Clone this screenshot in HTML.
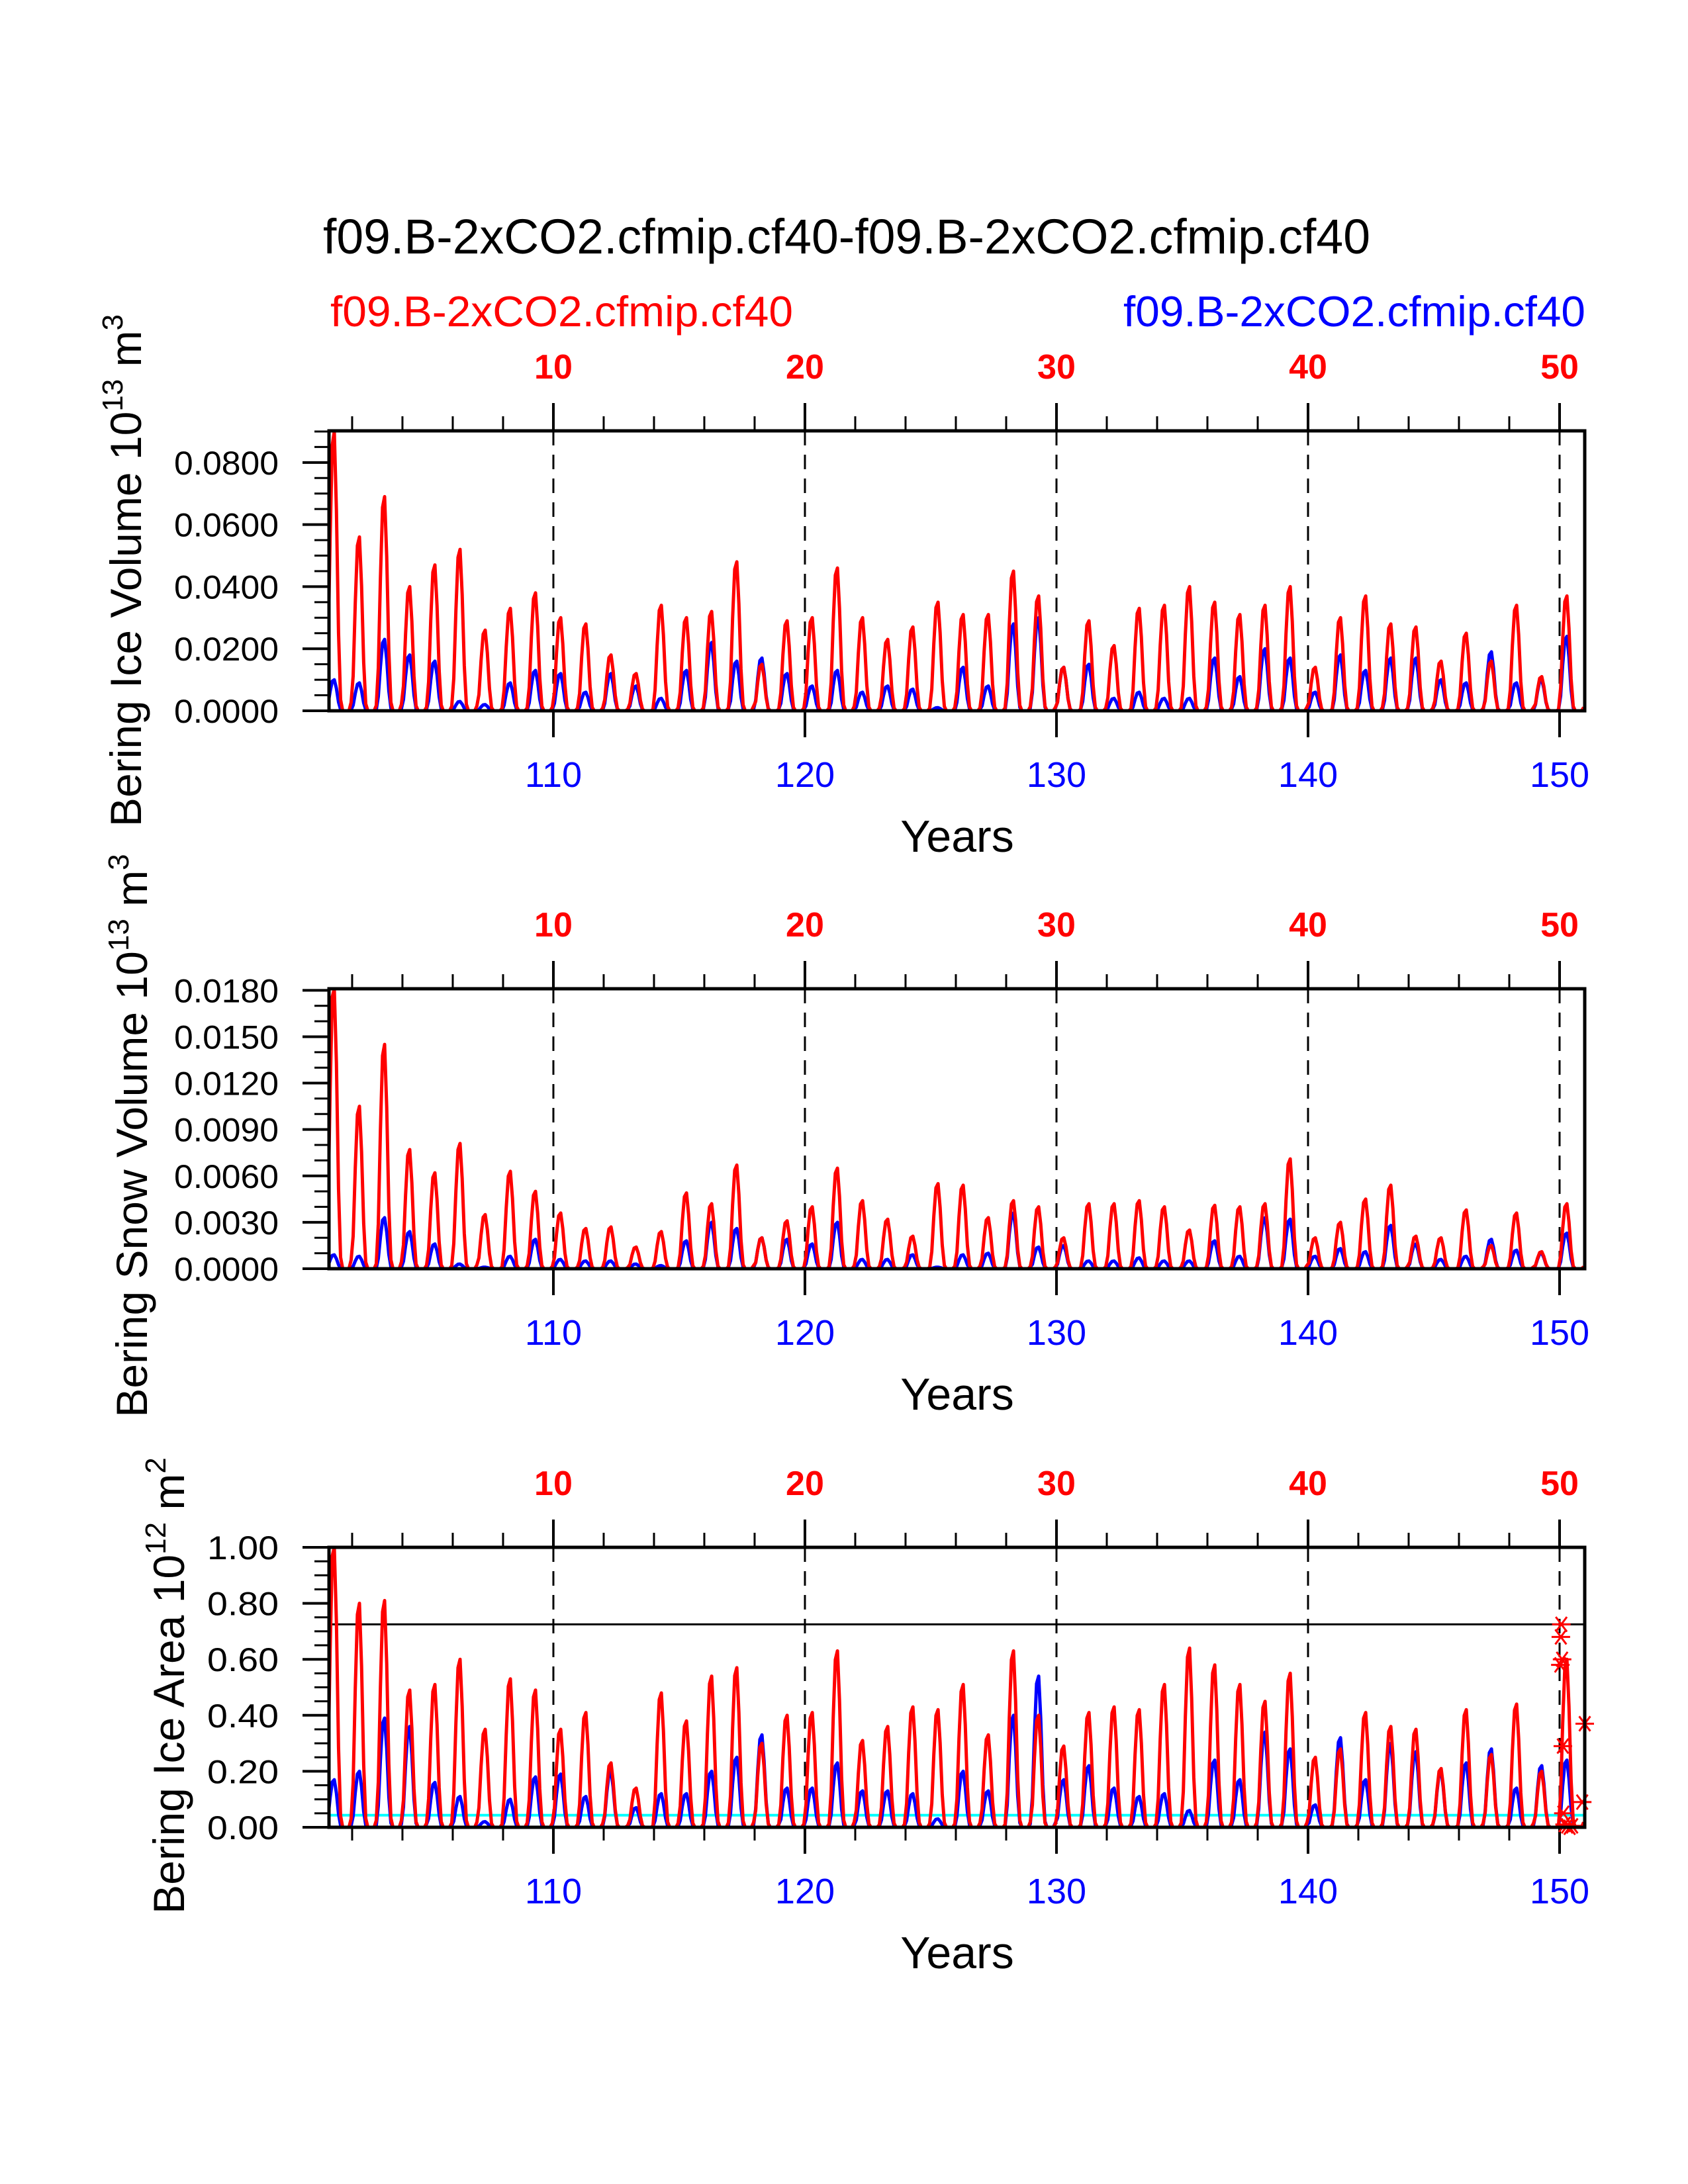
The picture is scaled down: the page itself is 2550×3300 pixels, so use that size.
<!DOCTYPE html>
<html><head><meta charset="utf-8"><title>Bering sea ice</title>
<style>html,body{margin:0;padding:0;background:#fff}svg{display:block}text{font-family:"Liberation Sans",sans-serif}</style>
</head><body>
<svg id="chart" xmlns="http://www.w3.org/2000/svg" width="2550" height="3300" viewBox="0 0 2550 3300">
<text x="488" y="383" font-size="74" textLength="1582" lengthAdjust="spacingAndGlyphs">f09.B-2xCO2.cfmip.cf40-f09.B-2xCO2.cfmip.cf40</text>
<text x="499" y="493" font-size="65" fill="#ff0000" textLength="699" lengthAdjust="spacingAndGlyphs">f09.B-2xCO2.cfmip.cf40</text>
<text x="1697" y="493" font-size="65" fill="#0000ff" textLength="698" lengthAdjust="spacingAndGlyphs">f09.B-2xCO2.cfmip.cf40</text>
<g id="plots"></g>
</svg>
<script>
// seasonal shape of each yearly melt/freeze cycle (fraction of annual peak, Jan..Dec)
const seasonProfile=[0.2,0.62,0.95,1.0,0.72,0.28,0.04,0,0,0,0,0.03];
const years=[];for(let y=101;y<=150;y++)years.push(y);
const iceVolRed=[0.090,0.056,0.069,0.040,0.047,0.052,0.026,0.033,0.038,0.030,0.028,0.018,0.012,0.034,0.030,0.032,0.048,0.015,0.029,0.030,0.046,0.030,0.023,0.027,0.035,0.031,0.031,0.045,0.037,0.014,0.029,0.021,0.033,0.034,0.040,0.035,0.031,0.034,0.040,0.014,0.030,0.037,0.028,0.027,0.016,0.025,0.016,0.034,0.011,0.037];
const iceVolBlue=[0.010,0.009,0.023,0.018,0.016,0.003,0.002,0.009,0.013,0.012,0.006,0.012,0.008,0.004,0.013,0.022,0.016,0.017,0.012,0.008,0.013,0.006,0.008,0.007,0.001,0.014,0.008,0.028,0.030,0.014,0.015,0.004,0.006,0.004,0.004,0.017,0.011,0.020,0.017,0.006,0.018,0.013,0.017,0.017,0.010,0.009,0.019,0.009,0.010,0.024];
const snowVolRed=[0.0185,0.0105,0.0145,0.0077,0.0062,0.0081,0.0035,0.0063,0.0050,0.0036,0.0026,0.0027,0.0014,0.0024,0.0049,0.0042,0.0067,0.0020,0.0031,0.0040,0.0065,0.0044,0.0032,0.0021,0.0055,0.0054,0.0033,0.0044,0.0040,0.0020,0.0042,0.0042,0.0044,0.0040,0.0025,0.0041,0.0040,0.0042,0.0071,0.0020,0.0030,0.0045,0.0054,0.0021,0.0020,0.0038,0.0015,0.0036,0.0011,0.0042];
const snowVolBlue=[0.0009,0.0008,0.0033,0.0024,0.0016,0.0003,0.0001,0.0008,0.0019,0.0006,0.0005,0.0005,0.0003,0.0002,0.0018,0.0030,0.0026,0.0020,0.0019,0.0016,0.0030,0.0006,0.0006,0.0009,0.0001,0.0009,0.0010,0.0036,0.0014,0.0015,0.0005,0.0005,0.0007,0.0005,0.0005,0.0018,0.0008,0.0033,0.0032,0.0008,0.0013,0.0011,0.0028,0.0016,0.0006,0.0008,0.0019,0.0012,0.0010,0.0023];
const iceAreaRed=[1.02,0.80,0.81,0.49,0.51,0.60,0.35,0.53,0.49,0.35,0.41,0.23,0.14,0.48,0.38,0.54,0.57,0.30,0.40,0.41,0.63,0.31,0.36,0.43,0.42,0.51,0.33,0.63,0.40,0.29,0.41,0.43,0.42,0.51,0.64,0.58,0.51,0.45,0.55,0.25,0.28,0.41,0.36,0.35,0.21,0.42,0.26,0.44,0.20,0.60];
const iceAreaBlue=[0.17,0.20,0.39,0.36,0.16,0.11,0.02,0.10,0.18,0.19,0.11,0.20,0.07,0.12,0.12,0.20,0.25,0.33,0.14,0.14,0.23,0.13,0.13,0.12,0.03,0.20,0.13,0.40,0.54,0.17,0.22,0.14,0.11,0.12,0.06,0.24,0.17,0.34,0.28,0.08,0.32,0.17,0.30,0.27,0.20,0.23,0.28,0.14,0.22,0.24];
const iceAreaRefLine=[0.725];
const iceAreaCyanLine=[0.043];
const starX=[150.07,150.05,150.10,150.03,151.0,150.13,150.9,150.15,150.2,150.3,150.4,150.5];
const starY=[0.725,0.68,0.60,0.58,0.37,0.29,0.09,0.05,0.01,0.005,0.0,0.005];
const topTickLabels=["10","20","30","40","50"];
const bottomTickLabels=["110","120","130","140","150"];
const iceVolTicks=["0.0000","0.0200","0.0400","0.0600","0.0800"];
const snowVolTicks=["0.0000","0.0030","0.0060","0.0090","0.0120","0.0150","0.0180"];
const iceAreaTicks=["0.00","0.20","0.40","0.60","0.80","1.00"];

const NS="http://www.w3.org/2000/svg";
const X0=497,X1=2394,XMIN=101.08,XMAX=151.0;
function xs(v){return X0+(v-XMIN)/(XMAX-XMIN)*(X1-X0);}
function mk(tag,attrs,parent){const e=document.createElementNS(NS,tag);for(const k in attrs)e.setAttribute(k,attrs[k]);parent.appendChild(e);return e;}
const root=document.getElementById('plots');

function panel(o){
  const top=o.top,bot=o.top+423,ymax=o.ymax;
  const ys=v=>bot-Math.min(v,ymax)/ymax*(bot-top);
  const g=mk('g',{},root);
  
  
  const clipId='clip'+o.top;
  const cp=mk('clipPath',{id:clipId},g);mk('rect',{x:X0,y:top,width:X1-X0,height:bot-top},cp);
  for(let yr=110;yr<=150;yr+=10){
    const l=mk('line',{x1:xs(yr),x2:xs(yr),y1:top,y2:bot,stroke:'#000','stroke-width':3,'stroke-dasharray':'22,14'},g);
    
    
  }
  for(let yr=102;yr<=150;yr+=2){
    const major=yr%10===0,x=xs(yr);
    const t=mk('line',{x1:x,x2:x,y1:top,y2:top-(major?42:22),stroke:'#000','stroke-width':major?4:3},g);
    
    
    if(major||o.bottomMinor){
      const b=mk('line',{x1:x,x2:x,y1:bot,y2:bot+(major?40:20),stroke:'#000','stroke-width':major?4:3},g);
      
      
    }
  }
  topTickLabels.forEach((s,i)=>{
    const t=mk('text',{x:xs(110+i*10),y:top-79,'font-size':52,'font-weight':'bold',fill:'#ff0000','text-anchor':'middle'},g);
    t.textContent=s;
    
    
  });
  bottomTickLabels.forEach((s,i)=>{
    const t=mk('text',{x:xs(110+i*10),y:bot+115,'font-size':54,fill:'#0000ff','text-anchor':'middle'},g);
    t.textContent=s;
    
    
  });
  const xt=mk('text',{x:1446,y:bot+213,'font-size':68,'text-anchor':'middle'},g);
  xt.textContent='Years';
  
  
  for(let v=0;v<=ymax+1e-9;v+=o.minor){
    const isMaj=Math.abs(v/o.major-Math.round(v/o.major))<1e-6;
    const l=mk('line',{x1:X0,x2:X0-(isMaj?40:22),y1:ys(v),y2:ys(v),stroke:'#000','stroke-width':isMaj?4:3},g);
    
    
  }
  o.ticks.forEach(s=>{
    const v=parseFloat(s);
    const t=mk('text',{x:421,y:ys(v)+18,'font-size':50,'text-anchor':'end',textLength:o.tlw,lengthAdjust:'spacingAndGlyphs'},g);
    t.textContent=s;
    
    
  });
  const yt=mk('text',{x:0,y:0,'font-size':66,'text-anchor':'middle',transform:`translate(${o.tx},${o.ty}) rotate(-90)`},g);
  
  
  yt.innerHTML=o.title;
  if(o.hlines)o.hlines.forEach(h=>{
    const l=mk('line',{x1:X0,x2:X1,y1:ys(h.v),y2:ys(h.v),stroke:h.c,'stroke-width':h.w},g);
    
    
  });
  const cg=mk('g',{'clip-path':`url(#${clipId})`},g);
  [[o.blue,'#0000ff','blue-series'],[o.red,'#ff0000','red-series']].forEach(([arr,c,n])=>{
    let d='';
    years.forEach((yr,i)=>{seasonProfile.forEach((f,m)=>{
      const x=xs(yr+(m+0.5)/12),y=ys(arr[i]*f);
      d+=(d?'L':'M')+x.toFixed(1)+','+y.toFixed(1);
    });});
    const p=mk('path',{d:d,fill:'none',stroke:c,'stroke-width':5,'stroke-linejoin':'round'},cg);
    
    
  });
  if(o.stars){
    starX.forEach((sx,i)=>{
      const cx=xs(sx),cy=ys(starY[i]),r=14;
      const s=mk('path',{d:`M${cx-r},${cy}L${cx+r},${cy}M${cx-r*0.6},${cy-r*0.8}L${cx+r*0.6},${cy+r*0.8}M${cx-r*0.6},${cy+r*0.8}L${cx+r*0.6},${cy-r*0.8}`,stroke:'#ff0000','stroke-width':3,fill:'none'},g);
      
      
    });
  }
  const f=mk('rect',{x:X0,y:top,width:X1-X0,height:bot-top,fill:'none',stroke:'#000','stroke-width':5},g);
  
  
}
panel({name:'ice-volume-panel',top:651,ymax:0.0902,major:0.02,minor:0.005,ticks:iceVolTicks,tlw:158,red:iceVolRed,blue:iceVolBlue,tx:213,ty:862,
  title:'Bering Ice Volume 10<tspan font-size="44" dy="-28">13</tspan><tspan dy="28"> m</tspan><tspan font-size="44" dy="-28">3</tspan>'});
panel({name:'snow-volume-panel',top:1494,ymax:0.0181,major:0.003,minor:0.001,ticks:snowVolTicks,tlw:158,red:snowVolRed,blue:snowVolBlue,tx:222,ty:1716,
  title:'Bering Snow Volume 10<tspan font-size="44" dy="-28">13</tspan><tspan dy="28"> m</tspan><tspan font-size="44" dy="-28">3</tspan>'});
panel({name:'ice-area-panel',top:2338,ymax:1.0,major:0.2,minor:0.05,ticks:iceAreaTicks,tlw:108,red:iceAreaRed,blue:iceAreaBlue,tx:278,ty:2547,bottomMinor:true,stars:true,
  hlines:[{v:iceAreaRefLine[0],c:'#000',w:3,n:'reference-line'},{v:iceAreaCyanLine[0],c:'#00ffff',w:4,n:'cyan-threshold-line'}],
  title:'Bering Ice Area 10<tspan font-size="44" dy="-28">12</tspan><tspan dy="28"> m</tspan><tspan font-size="44" dy="-28">2</tspan>'});
</script>
</body></html>
